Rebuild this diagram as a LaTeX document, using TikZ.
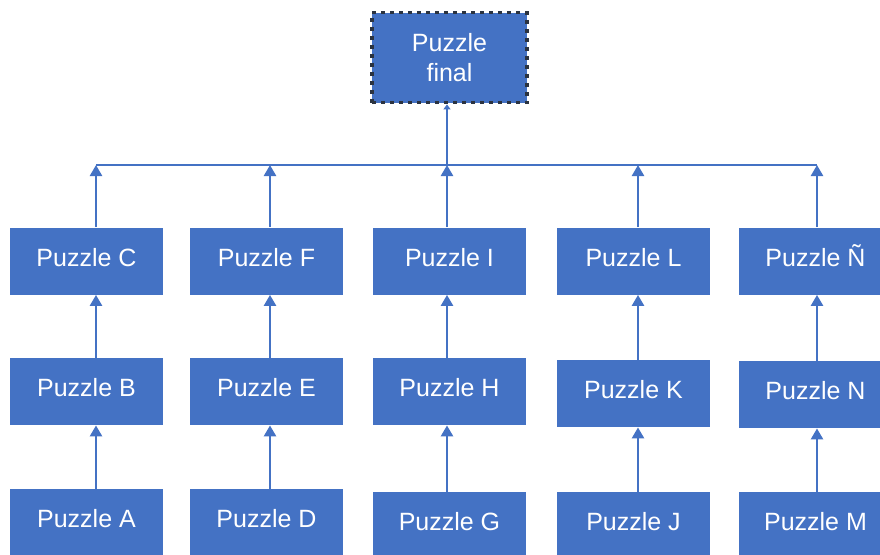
\documentclass[tikz,border=0pt]{standalone}
\usepackage{fontspec}
\setmainfont{Liberation Sans}
\usetikzlibrary{arrows.meta}
\definecolor{boxblue}{HTML}{4472C4}
\definecolor{edgedark}{HTML}{2B3340}
\tikzset{
  puzzlebox/.style={rectangle, fill=boxblue, draw=none, text=white,
    minimum width=76.5pt, minimum height=33.5pt, inner sep=0pt,
    font=\fontsize{12.5}{15}\selectfont, text height=9pt, text depth=4pt},
  finalbox/.style={rectangle, fill=boxblue, draw=edgedark, line width=1.9pt,
    dash pattern=on 2pt off 2.5pt, text=white, align=center,
    minimum width=77.5pt, minimum height=45pt, inner sep=0pt,
    font=\fontsize{12.5}{15}\selectfont},
  link/.style={draw=boxblue, line width=1.25pt},
  uparrow/.style={link, -{Triangle[width=6pt,length=5.5pt]}},
  smalltip/.style={link, -{Triangle[width=3.5pt,length=2.5pt]}}
}
\begin{document}
\begin{tikzpicture}[x=0.5pt, y=-0.5pt]
  \useasboundingbox (0,0) rectangle (880,554);
  \clip (0,0) rectangle (880,554);

  % top node
  \node[finalbox] (final) at (449.5,57.5) {Puzzle\\final};

  % column 1
  \node[puzzlebox] (C) at (86.5,261)   {Puzzle C};
  \node[puzzlebox] (B) at (86.5,391.5) {Puzzle B};
  \node[puzzlebox] (A) at (86.5,522.5) {Puzzle A};
  % column 2
  \node[puzzlebox] (F) at (266.5,261)   {Puzzle F};
  \node[puzzlebox] (E) at (266.5,391.5) {Puzzle E};
  \node[puzzlebox] (D) at (266.5,522.5) {Puzzle D};
  % column 3
  \node[puzzlebox] (I) at (449.5,261)   {Puzzle I};
  \node[puzzlebox] (H) at (449.5,391.5) {Puzzle H};
  \node[puzzlebox] (G) at (449.5,525.5) {Puzzle G};
  % column 4
  \node[puzzlebox] (L) at (633.5,261)   {Puzzle L};
  \node[puzzlebox] (K) at (633.5,393.5) {Puzzle K};
  \node[puzzlebox] (J) at (633.5,525.5) {Puzzle J};
  % column 5
  \node[puzzlebox] (NT) at (815.5,261)   {Puzzle Ñ};
  \node[puzzlebox] (N)  at (815.5,394.5) {Puzzle N};
  \node[puzzlebox] (M)  at (815.5,525.5) {Puzzle M};

  % connector tracks
  \coordinate (x1) at (96,0);
  \coordinate (x2) at (270,0);
  \coordinate (x3) at (447,0);
  \coordinate (x4) at (638,0);
  \coordinate (x5) at (817,0);
  \coordinate (busL) at (96,165);
  \coordinate (busR) at (817,165);

  % collecting bus
  \draw[link] (busL) -- (busR);
  \draw[smalltip] (x3 |- busL) -- (final.south -| x3);

  % column chains
  \draw[uparrow] (A.north -| x1) -- (B.south -| x1);
  \draw[uparrow] (B.north -| x1) -- (C.south -| x1);
  \draw[uparrow] (C.north -| x1) -- (x1 |- busL);

  \draw[uparrow] (D.north -| x2) -- (E.south -| x2);
  \draw[uparrow] (E.north -| x2) -- (F.south -| x2);
  \draw[uparrow] (F.north -| x2) -- (x2 |- busL);

  \draw[uparrow] (G.north -| x3) -- (H.south -| x3);
  \draw[uparrow] (H.north -| x3) -- (I.south -| x3);
  \draw[uparrow] (I.north -| x3) -- (x3 |- busL);

  \draw[uparrow] (J.north -| x4) -- (K.south -| x4);
  \draw[uparrow] (K.north -| x4) -- (L.south -| x4);
  \draw[uparrow] (L.north -| x4) -- (x4 |- busL);

  \draw[uparrow] (M.north -| x5) -- (N.south -| x5);
  \draw[uparrow] (N.north -| x5) -- (NT.south -| x5);
  \draw[uparrow] (NT.north -| x5) -- (x5 |- busL);
\end{tikzpicture}
\end{document}
